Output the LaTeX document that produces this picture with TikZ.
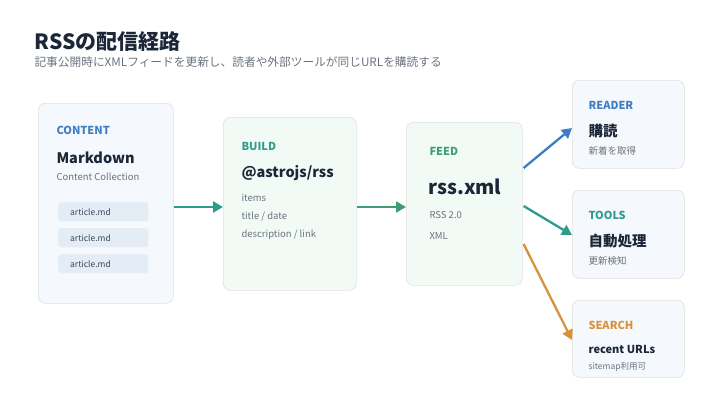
\documentclass[tikz,border=0pt]{standalone}
\usepackage{fontspec}
\setmainfont{Noto Sans CJK JP}
\usetikzlibrary{positioning,calc,arrows.meta}
\definecolor{ink}{HTML}{1B2638}
\definecolor{mute}{HTML}{6B7280}
\definecolor{cblue}{HTML}{3F7CC4}
\definecolor{cteal}{HTML}{2E9C8C}
\definecolor{cgreen}{HTML}{3E9E73}
\definecolor{corange}{HTML}{D9913A}
\definecolor{pillbg}{HTML}{E4ECF6}
\definecolor{bluebg}{HTML}{F5F8FC}
\definecolor{greenbg}{HTML}{F2FAF6}
\tikzset{
  box/.style={rectangle, rounded corners=7pt, draw=black!12, line width=0.6pt, anchor=north west},
  pill/.style={rectangle, rounded corners=3pt, fill=pillbg, minimum width=90pt, minimum height=19pt, anchor=north west, inner xsep=12pt, text width=66pt, align=left, font=\fontsize{8.5}{10}\selectfont, text=ink!85},
  tag/.style={anchor=west, font=\bfseries\fontsize{11}{13}\selectfont},
  head/.style={anchor=west, font=\bfseries\fontsize{14.5}{17}\selectfont, text=ink},
  sub/.style={anchor=west, font=\fontsize{9.5}{11}\selectfont, text=mute},
  flow/.style={line width=2.3pt, -{Triangle[length=10pt,width=11pt]}}
}
\begin{document}
\begin{tikzpicture}[x=1pt, y=-1pt]
	\useasboundingbox (0,0) rectangle (720,405);
	\node[anchor=west, font=\bfseries\fontsize{21}{24}\selectfont, text=ink] (title) at (31,42) {RSSの配信経路};
	\node[anchor=west, font=\fontsize{11.7}{14}\selectfont, text=mute] (subtitle) at (31,62) {記事公開時にXMLフィードを更新し、読者や外部ツールが同じURLを購読する};
	%
	\node[box, fill=bluebg, minimum width=135pt, minimum height=200pt] (content) at (38,103) {};
	\node[tag, text=cblue] (contenttag) at (53,130) {CONTENT};
	\node[head] (contenthead) at (53,158) {Markdown};
	\node[sub] (contentsub) at (53,177) {Content Collection};
	\node[pill] (art1) at (58,202) {article.md};
	\node[pill] (art2) at (58,228) {article.md};
	\node[pill] (art3) at (58,254) {article.md};
	%
	\node[box, fill=greenbg, minimum width=133pt, minimum height=173pt] (build) at (223,117) {};
	\node[tag, text=cteal] (buildtag) at (238,146) {BUILD};
	\node[head] (buildhead) at (238,173) {@astrojs/rss};
	\node[sub] (build1) at (238,198) {items};
	\node[sub] (build2) at (238,217) {title / date};
	\node[sub] (build3) at (238,235) {description / link};
	%
	\node[box, fill=greenbg, minimum width=116pt, minimum height=163pt] (feed) at (406,122) {};
	\node[tag, text=cgreen] (feedtag) at (426,151) {FEED};
	\node[anchor=west, font=\bfseries\fontsize{19.5}{23}\selectfont, text=ink] (feedhead) at (425,187) {rss.xml};
	\node[sub] (feed1) at (426,215) {RSS 2.0};
	\node[sub] (feed2) at (426,236) {XML};
	%
	\node[box, fill=bluebg, minimum width=112pt, minimum height=88pt] (reader) at (572,80) {};
	\node[tag, text=cblue] (readertag) at (585,105) {READER};
	\node[head] (readerhead) at (585,131) {購読};
	\node[sub] (readersub) at (585,151) {新着を取得};
	%
	\node[box, fill=bluebg, minimum width=112pt, minimum height=88pt] (tools) at (572,190) {};
	\node[tag, text=cteal] (toolstag) at (585,215) {TOOLS};
	\node[head] (toolshead) at (585,241) {自動処理};
	\node[sub] (toolssub) at (585,261) {更新検知};
	%
	\node[box, fill=bluebg, minimum width=112pt, minimum height=77pt] (search) at (572,300) {};
	\node[tag, text=corange] (searchtag) at (585,325) {SEARCH};
	\node[anchor=west, font=\bfseries\fontsize{11}{13}\selectfont, text=ink] (searchhead) at (585,349) {recent URLs};
	\node[sub, font=\fontsize{8.5}{10}\selectfont] (searchsub) at (585,367) {sitemap利用可};
	%
	\draw[flow, cteal] ($(content.north east)+(0,104)$) -- ($(build.north west)+(0,90)$);
	\draw[flow, cgreen] ($(build.north east)+(0,90)$) -- ($(feed.north west)+(0,85)$);
	\draw[flow, cblue] ($(feed.north east)+(1,46)$) -- ($(reader.north west)+(0,48)$);
	\draw[flow, cteal] ($(feed.north east)+(1,84)$) -- ($(tools.north west)+(0,45)$);
	\draw[flow, corange] ($(feed.north east)+(1,122)$) -- ($(search.north west)+(0,40)$);
\end{tikzpicture}
\end{document}
